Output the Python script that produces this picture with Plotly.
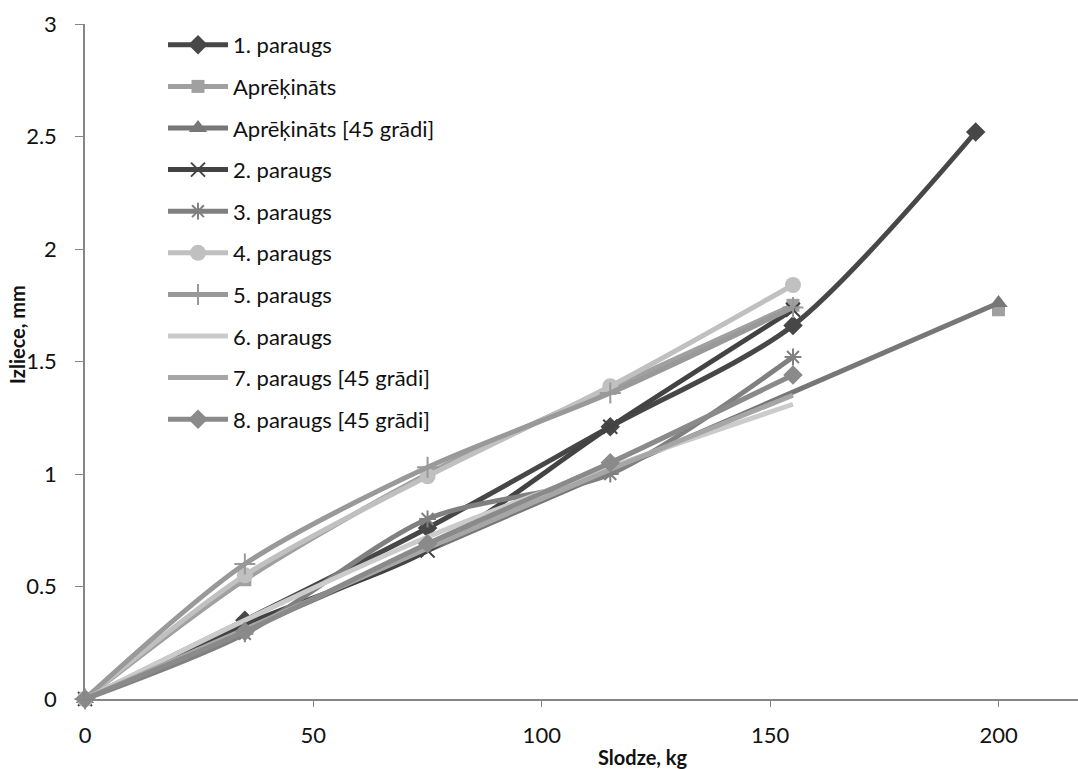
import plotly.graph_objects as go

# Load steps (kg)
load = [0, 35, 75, 115, 155]
load_1 = [0, 35, 75, 115, 155, 195]
load_calc = [0, 35, 75, 115, 155, None, 200]
load_calc45 = [0, 200]

# Deflection (mm)
sample_1 = [0, 0.35, 0.76, 1.21, 1.66, 2.52]
calc = [0, 0.53, 1.00, 1.38, 1.75, None, 1.73]
calc_45 = [0, 1.76]
sample_2 = [0, 0.33, 0.66, 1.21, 1.73]
sample_3 = [0, 0.29, 0.80, 1.00, 1.52]
sample_4 = [0, 0.55, 0.99, 1.39, 1.84]
sample_5 = [0, 0.60, 1.03, 1.36, 1.74]
sample_6 = [0, 0.35, 0.72, 1.03, 1.31]
sample_7 = [0, 0.31, 0.67, 1.02, 1.35]
sample_8 = [0, 0.30, 0.69, 1.05, 1.44]

x_ticks = [0, 50, 100, 150, 200]
y_ticks = [0, 0.5, 1, 1.5, 2, 2.5, 3]

series = [
    ("1. paraugs", load_1, sample_1, "#474747", "diamond", 15),
    ("Aprēķināts", load_calc, calc, "#a0a0a0", "square", 13),
    ("Aprēķināts [45 grādi]", load_calc45, calc_45, "#777777", "triangle-up", 16),
    ("2. paraugs", load, sample_2, "#434343", "x-thin", 14),
    ("3. paraugs", load, sample_3, "#808080", "asterisk", 14),
    ("4. paraugs", load, sample_4, "#c0c0c0", "circle", 16),
    ("5. paraugs", load, sample_5, "#999999", "cross-thin", 15),
    ("6. paraugs", load, sample_6, "#cbcbcb", None, 0),
    ("7. paraugs [45 grādi]", load, sample_7, "#a6a6a6", None, 0),
    ("8. paraugs [45 grādi]", load, sample_8, "#8a8a8a", "diamond", 15),
]

fig = go.Figure()
for i, (name, xs, ys, color, symbol, size) in enumerate(series):
    if symbol is None:
        mode = "lines"
        marker = dict()
    else:
        mode = "lines+markers"
        thin = symbol in ("x-thin", "asterisk", "cross-thin")
        marker = dict(symbol=symbol, size=size, color=color,
                      line=dict(color=color, width=2 if thin else 0))
    fig.add_trace(go.Scatter(
        x=xs, y=ys, name=name, mode=mode, legendgroup=f"g{i}",
        line=dict(color=color, width=5, shape="spline", smoothing=0.8),
        marker=marker, connectgaps=False, cliponaxis=False,
    ))

W, H = 1078, 769
L, R, T, B = 85, 0, 24, 70
font_family = "Lato, 'Open Sans', sans-serif"
axis_color = "#868686"

fig.update_layout(
    width=W, height=H,
    margin=dict(l=L, r=R, t=T, b=B),
    paper_bgcolor="white", plot_bgcolor="white",
    font=dict(family=font_family, size=22, color="#111111"),
    showlegend=True,
    legend=dict(
        x=(163 - L) / (W - L - R), y=(H - B - 24) / (H - B - T),
        xanchor="left", yanchor="top",
        bgcolor="rgba(0,0,0,0)", borderwidth=0,
        font=dict(family=font_family, size=22, color="#111111"),
        tracegroupgap=10, itemwidth=60, traceorder="grouped",
    ),
    xaxis=dict(
        range=[0, 217.4], tickvals=x_ticks, ticktext=[str(v) for v in x_ticks],
        showgrid=False, zeroline=False, showline=True, linecolor=axis_color,
        linewidth=1.5, ticks="outside", ticklen=6, tickcolor=axis_color,
        tickwidth=1.2, ticklabelstandoff=10,
    ),
    yaxis=dict(
        range=[0, 3], tickvals=y_ticks, ticktext=["0", "0.5", "1", "1.5", "2", "2.5", "3"],
        showgrid=False, zeroline=False, showline=True, linecolor=axis_color,
        linewidth=1.5, ticks="outside", ticklen=8, tickcolor=axis_color,
        tickwidth=1.2, ticklabelstandoff=14,
    ),
    annotations=[
        dict(text="<b>Slodze, kg</b>", xref="paper", yref="paper",
             x=(643 - L) / (W - L - R), y=-(757 - (H - B)) / (H - B - T),
             xanchor="center", yanchor="middle", showarrow=False,
             font=dict(family=font_family, size=20, color="#111111")),
        dict(text="<b>Izliece, mm</b>", xref="paper", yref="paper",
             x=-(L - 17) / (W - L - R), y=(H - B - 335) / (H - B - T),
             xanchor="center", yanchor="middle", showarrow=False, textangle=-90,
             font=dict(family=font_family, size=20, color="#111111")),
    ],
)

fig.write_html("out.html")
